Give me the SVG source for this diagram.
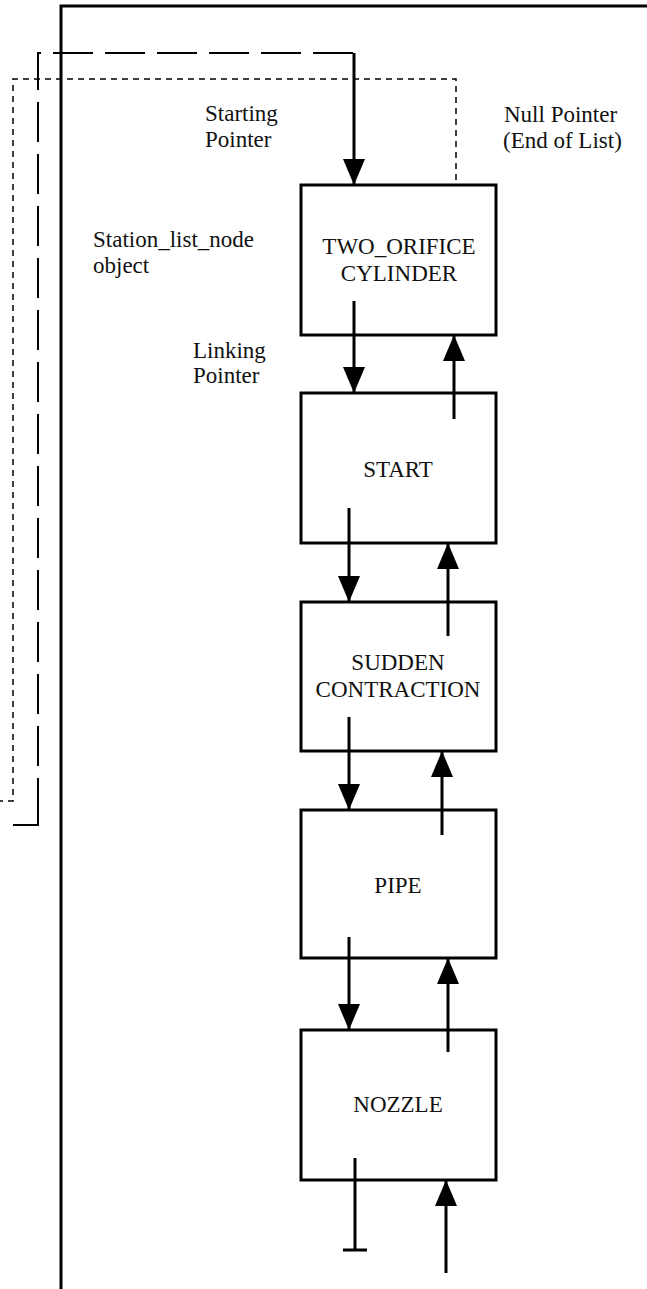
<svg xmlns="http://www.w3.org/2000/svg" width="647" height="1289" viewBox="0 0 647 1289">
<style>
.box{fill:#fff;stroke:#000;stroke-width:3}
.lbl{font-family:"Liberation Serif","Times New Roman",serif;font-size:23px;fill:#111}
.c{text-anchor:middle}
.arr{stroke:#000;stroke-width:3;fill:none;marker-end:url(#ah)}
.ln{stroke:#000;stroke-width:3;fill:none}
.ld{stroke:#000;stroke-width:2;fill:none;stroke-dasharray:40 12}
.sd{stroke:#000;stroke-width:1.5;fill:none;stroke-dasharray:6 5}
</style>
<defs>
<marker id="ah" markerUnits="userSpaceOnUse" markerWidth="26" markerHeight="22" refX="26" refY="11" orient="auto" viewBox="0 0 26 22">
<path d="M0,0 L26,11 L0,22 z" fill="#000"/>
</marker>
</defs>
<rect width="647" height="1289" fill="#fff"/>
<g id="frame">
<path class="ln" d="M61,1289 V6 H647"/>
</g>
<g id="n1"><rect class="box" x="301" y="185" width="195" height="150"/>
<text class="lbl c" x="399" y="254">TWO_ORIFICE</text>
<text class="lbl c" x="399" y="281">CYLINDER</text></g>
<g id="n2"><rect class="box" x="301" y="393" width="195" height="150"/>
<text class="lbl c" x="398" y="477">START</text></g>
<g id="n3"><rect class="box" x="301" y="602" width="195" height="149"/>
<text class="lbl c" x="398" y="670">SUDDEN</text>
<text class="lbl c" x="398" y="697">CONTRACTION</text></g>
<g id="n4"><rect class="box" x="301" y="810" width="195" height="148"/>
<text class="lbl c" x="398" y="893">PIPE</text></g>
<g id="n5"><rect class="box" x="301" y="1030" width="195" height="150"/>
<text class="lbl c" x="398" y="1112">NOZZLE</text></g>
<g id="labels">
<text class="lbl" x="205" y="121">Starting</text>
<text class="lbl" x="205" y="147">Pointer</text>
<text class="lbl" x="504" y="122">Null Pointer</text>
<text class="lbl" x="503" y="148">(End of List)</text>
<text class="lbl" x="93" y="247">Station_list_node</text>
<text class="lbl" x="93" y="273">object</text>
<text class="lbl" x="193" y="358">Linking</text>
<text class="lbl" x="193" y="383">Pointer</text>
</g>
<g id="connectors">
<path class="ld" d="M353,53 H38 V825"/>
<path class="ln" style="stroke-width:2" d="M38,800 V825 H13"/>
<path class="sd" d="M456,180 V79 H13 V801 H0"/>
<path class="arr" d="M354,53 V185"/>
<path class="arr" d="M354,301 V393"/>
<path class="arr" d="M454,419 V335"/>
<path class="arr" d="M349,508 V602"/>
<path class="arr" d="M448,636 V543"/>
<path class="arr" d="M349,717 V810"/>
<path class="arr" d="M442,835 V751"/>
<path class="arr" d="M349,937 V1030"/>
<path class="arr" d="M448,1052 V958"/>
<path class="ln" d="M355,1158 V1250 M343,1250 H367"/>
<path class="arr" d="M446,1273 V1180"/>
</g>
</svg>
